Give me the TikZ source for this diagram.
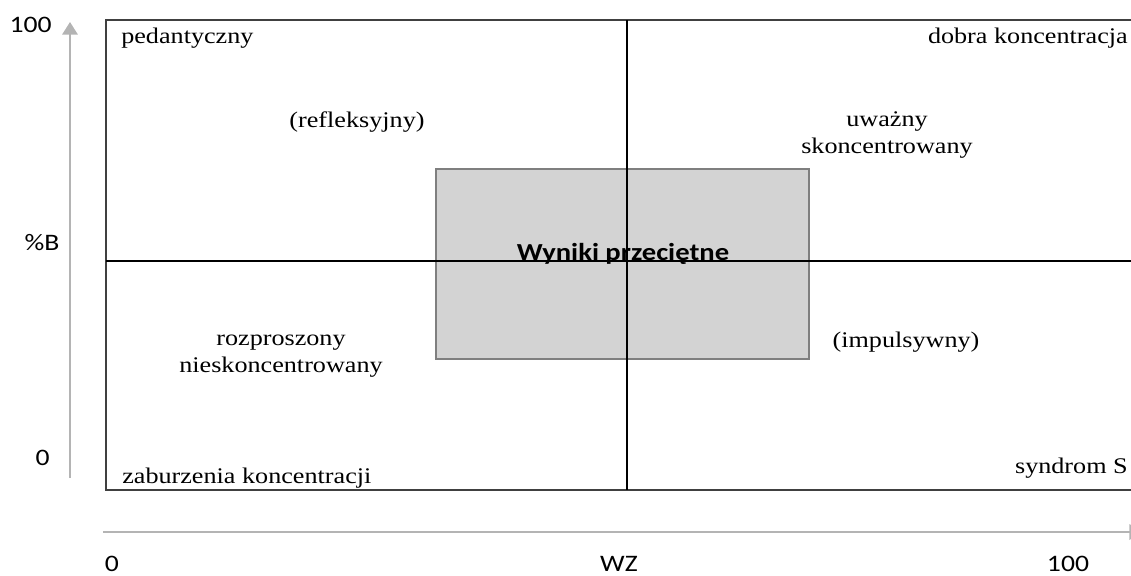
\documentclass[tikz,border=0pt]{standalone}
\usepackage{fontspec}
\setmainfont{Liberation Serif}[FakeStretch=1.17]
\newfontfamily\axisfont{Carlito}[FakeStretch=1.17]
\usetikzlibrary{arrows.meta, positioning}
\definecolor{framegray}{HTML}{404040}
\definecolor{axisgray}{HTML}{B4B4B4}
\definecolor{boxfill}{HTML}{D3D3D3}
\definecolor{boxedge}{HTML}{7F7F7F}

\begin{document}
\begin{tikzpicture}[x=0.025cm, y=-0.025cm,
            lbl/.style={inner sep=0pt, font=\fontsize{15.9}{19}\selectfont},
            twoline/.style={lbl, align=center},
            axlbl/.style={inner sep=0pt, font=\axisfont\fontsize{16.8}{20}\selectfont},
            axisline/.style={draw=axisgray, line width=1.4pt, -{Triangle[width=11pt, length=9pt]}},
            frame/.style={draw=framegray, line width=1.6pt},
            midline/.style={draw=black, line width=0.9pt},
            avgbox/.style={fill=boxfill, draw=boxedge, line width=1.6pt}]
            \useasboundingbox (0,0) rectangle (1131,575);
            \clip (0,0) rectangle (1131,575);

            % axes
            \coordinate (ybot) at (70,478);
            \coordinate (ytop) at (70,22);
            \coordinate (xleft) at (103,532);
            \coordinate (xright) at (1142,532);
            \draw[axisline] (ybot) -- (ytop);
            \draw[axisline] (xleft) -- (xright);

            \node[axlbl, anchor=base east] (y100) at (52,32) {100};
            \node[axlbl, anchor=base] (yB) at (42,250) {\%B};
            \node[axlbl, anchor=base east] (y0) at (50,465) {0};
            \node[axlbl, anchor=base] (x0) at (112,571) {0};
            \node[axlbl, anchor=base] (xWZ) at (619,571) {WZ};
            \node[axlbl, anchor=base] (x100) at (1068,571) {100};

            % average results box
            \path[avgbox] (436,169) rectangle (809,359);

            % frame and quadrant lines
            \draw[frame] (106,20) rectangle (1145,490);
            \draw[midline] (106,261) -- (1145,261);
            \draw[midline] (627,20) -- (627,490);

            \node[inner sep=0pt, anchor=base, font=\axisfont\bfseries\fontsize{17.4}{20}\selectfont] (avg) at (623,260) {Wyniki przeciętne};

            % quadrant labels
            \node[lbl, anchor=base west] (ped) at (121,43) {pedantyczny};
            \node[lbl, anchor=base east] (good) at (1128,43) {dobra koncentracja};
            \node[lbl, anchor=base] (refl) at (357,127) {(refleksyjny)};
            \node[twoline, anchor=base] (att) at (887,153) {uważny\\skoncentrowany};
            \node[twoline, anchor=base] (dist) at (281,372) {rozproszony\\nieskoncentrowany};
            \node[lbl, anchor=base] (imp) at (906,347) {(impulsywny)};
            \node[lbl, anchor=base west] (dis) at (122,483) {zaburzenia koncentracji};
            \node[lbl, anchor=base east] (synd) at (1128,473) {syndrom S};
\end{tikzpicture}
\end{document}
